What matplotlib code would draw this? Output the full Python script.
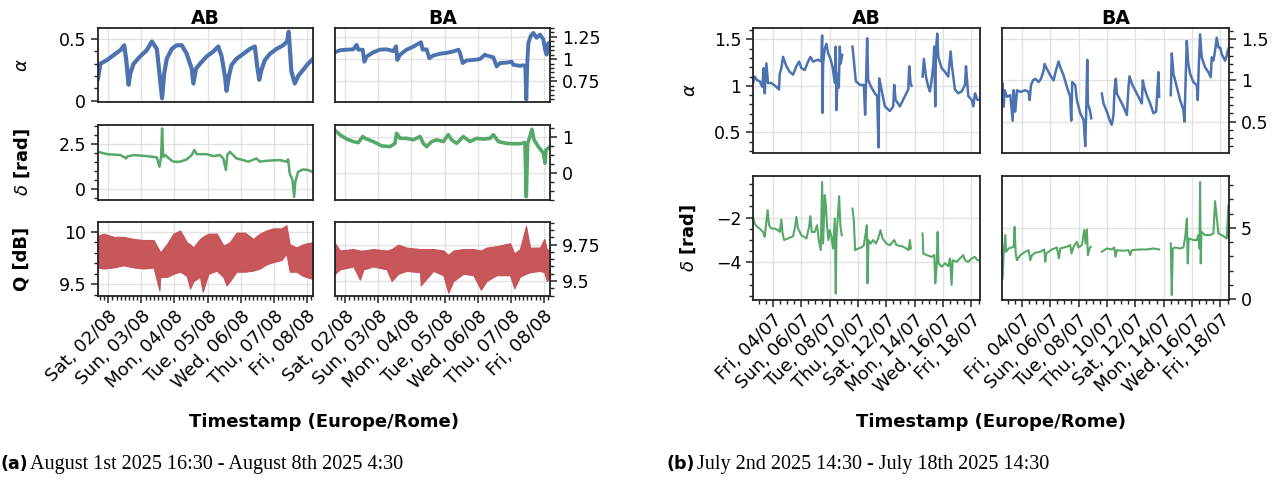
import numpy as np
import matplotlib
matplotlib.use("Agg")
import matplotlib.pyplot as plt
import matplotlib.dates as mdates
from matplotlib.ticker import MultipleLocator, FuncFormatter

# ---------------- data (hours since window start) ----------------
start_a = np.datetime64("2025-08-01T16:30")
end_a = np.datetime64("2025-08-08T04:30")
start_b = np.datetime64("2025-07-02T14:30")
end_b = np.datetime64("2025-07-18T14:30")

# (a) AB alpha
a_ab_alpha_t = [0, 1.7, 6.5, 11.3, 16.2, 19.0, 20.5, 22.2, 23.4, 25.8,
                30.6, 35.4, 39.1, 42.7, 44.6, 46.5, 48.0, 49.9, 53.5, 57.1,
                60.8, 64.4, 68.0, 69.2, 71.1, 74.0, 78.9, 83.7, 87.3, 89.7,
                92.1, 93.3, 95.0, 96.9, 100.5, 105.4, 110.2, 113.8, 115.5, 117.0,
                118.6, 121.1, 124.7, 129.5, 134.3, 137.2, 138.4, 139.1, 140.3, 142.8,
                145.2, 148.8, 152.4, 156]
a_ab_alpha_v = [0.18, 0.30, 0.33, 0.37, 0.41, 0.45, 0.33, 0.13, 0.22, 0.30,
                0.36, 0.41, 0.48, 0.42, 0.22, 0.02, 0.22, 0.34, 0.42, 0.45,
                0.45, 0.38, 0.26, 0.14, 0.26, 0.30, 0.36, 0.40, 0.44, 0.36,
                0.20, 0.08, 0.20, 0.29, 0.34, 0.38, 0.42, 0.44, 0.28, 0.17,
                0.25, 0.33, 0.38, 0.42, 0.45, 0.48, 0.56, 0.44, 0.24, 0.14,
                0.20, 0.25, 0.30, 0.34]

# (a) BA alpha
a_ba_alpha_t = [0, 3.6, 8.5, 13.3, 15.7, 16.9, 20.1, 21.3, 23.0, 27.8,
                32.6, 37.5, 42.3, 44.3, 45.2, 47.2, 52.0, 56.8, 62.4, 63.6,
                66.5, 68.4, 71.3, 76.2, 81.0, 85.9, 89.5, 90.7, 92.6, 95.5,
                100.4, 105.2, 108.8, 110.0, 112.5, 114.9, 117.3, 119.7, 124.5, 128.2,
                129.4, 134.2, 136.6, 138.1, 138.8, 139.5, 140.3, 142.0, 143.9, 146.3,
                148.7, 151.2, 152.4, 153.6, 154.8, 156.0]
a_ba_alpha_v = [1.076, 1.10, 1.106, 1.11, 1.16, 1.106, 1.106, 0.97, 1.03, 1.076,
                1.106, 1.11, 1.09, 1.144, 0.99, 1.05, 1.106, 1.14, 1.19, 1.106,
                1.11, 1.01, 1.04, 1.06, 1.07, 1.087, 1.106, 1.07, 0.955, 0.985,
                0.99, 1.0, 1.05, 1.04, 1.03, 1.02, 0.917, 0.955, 0.96, 0.97,
                0.936, 0.924, 0.93, 0.917, 0.545, 0.95, 1.18, 1.26, 1.295, 1.24,
                1.276, 1.22, 1.106, 1.05, 1.18, 1.125]

# (a) AB delta
a_ab_delta_t = [0, 6.5, 16.2, 20.5, 21.0, 25.8, 35.4, 42.7, 44.6, 45.8,
                46.5, 47.3, 48.7, 52.3, 54.7, 59.6, 64.4, 68.0, 69.9, 71.6,
                78.9, 83.7, 88.5, 90.9, 92.8, 93.8, 95.7, 100.5, 105.4, 109.0,
                115.0, 117.4, 122.3, 131.9, 136.7, 137.9, 139.1, 141.1, 142.3, 143.2,
                145.2, 148.8, 152.4, 156]
a_ab_delta_v = [2.07, 1.94, 1.89, 1.70, 1.80, 1.89, 1.83, 1.76, 1.24, 1.80,
                3.37, 1.80, 1.89, 1.65, 1.52, 1.52, 1.65, 1.89, 2.17, 1.94,
                1.94, 1.83, 1.89, 1.70, 1.06, 1.89, 2.07, 1.70, 1.61, 1.52,
                1.70, 1.52, 1.57, 1.61, 1.52, 1.65, 0.87, 0.50, -0.43, 0.41,
                0.96, 1.09, 1.06, 0.93]

# (a) BA delta
a_ba_delta_t = [0, 3.6, 8.5, 13.3, 16.9, 20.1, 21.8, 27.8, 33.9, 39.9,
                43.5, 44.7, 47.2, 52.0, 56.8, 61.7, 64.1, 66.5, 70.1, 73.8,
                78.6, 82.2, 84.6, 88.3, 93.1, 97.9, 102.8, 107.6, 112.5, 114.9,
                118.5, 124.5, 129.4, 134.2, 137.8, 138.8, 139.8, 141.4, 142.9, 144.4,
                147.5, 151.2, 152.4, 153.1, 154.8, 156]
a_ba_delta_v = [1.17, 1.05, 0.93, 0.86, 0.83, 1.0, 0.95, 0.86, 0.74, 0.72,
                0.81, 1.09, 0.95, 0.95, 0.91, 1.0, 0.81, 0.72, 0.86, 0.91,
                0.86, 1.05, 0.91, 0.81, 1.0, 0.86, 0.95, 0.93, 0.95, 1.05,
                0.86, 0.81, 0.80, 0.80, 0.83, -0.67, 0.81, 1.0, 1.2, 0.91,
                0.72, 0.54, 0.26, 0.63, 0.68, 0.72]

# (a) AB Q envelope
a_ab_q_t = [0, 4.1, 11.3, 18.6, 25.8, 33.0, 40.3, 44.6, 45.1, 49.9,
            54.7, 59.6, 64.4, 66.8, 69.2, 74.0, 76.0, 80.1, 86.1, 90.9,
            93.3, 95.7, 100.5, 106.6, 112.6, 117.4, 122.3, 127.1, 133.1, 136.7,
            139.1, 144.0, 148.8, 156]
a_ab_q_hi = [9.96, 9.98, 9.95, 9.95, 9.93, 9.92, 9.92, 9.82, 9.80, 9.88,
             9.98, 10.01, 9.90, 9.88, 9.85, 9.93, 9.95, 9.98, 9.98, 9.87,
             9.88, 9.90, 9.99, 9.99, 9.93, 9.98, 10.01, 10.03, 10.03, 10.06,
             9.88, 9.85, 9.88, 9.90]
a_ab_q_lo = [9.66, 9.65, 9.66, 9.68, 9.66, 9.65, 9.66, 9.44, 9.57, 9.57,
             9.60, 9.62, 9.58, 9.46, 9.53, 9.57, 9.43, 9.60, 9.63, 9.57,
             9.49, 9.53, 9.62, 9.62, 9.63, 9.65, 9.69, 9.71, 9.73, 9.79,
             9.62, 9.62, 9.58, 9.55]

# (a) BA Q envelope
a_ba_q_t = [0, 3.6, 13.3, 18.1, 20.6, 27.8, 37.5, 41.1, 45.9, 52.0,
            61.7, 62.2, 71.3, 78.6, 82.2, 85.9, 93.1, 100.4, 105.9, 110.0,
            117.3, 127.0, 130.1, 134.2, 138.6, 141.5, 148.7, 151.9, 153.6, 156]
a_ba_q_hi = [9.76, 9.71, 9.72, 9.71, 9.71, 9.72, 9.71, 9.72, 9.75, 9.73,
             9.72, 9.72, 9.72, 9.71, 9.68, 9.71, 9.72, 9.72, 9.71, 9.73,
             9.74, 9.76, 9.69, 9.72, 9.88, 9.73, 9.73, 9.79, 9.72, 9.71]
a_ba_q_lo = [9.55, 9.58, 9.60, 9.51, 9.58, 9.60, 9.58, 9.50, 9.55, 9.57,
             9.56, 9.47, 9.57, 9.54, 9.42, 9.50, 9.55, 9.54, 9.44, 9.50,
             9.54, 9.54, 9.45, 9.53, 9.55, 9.56, 9.57, 9.56, 9.50, 9.53]

nan = np.nan

# (b) AB alpha (nan = missing data)
b_ab_alpha_t = [0, 2.8, 6.8, 11.3, 15.8, 18.1, 19.8, 22.6, 25.4, 31.1,
                39.5, 44.0, 45.2, 48.0, 50.8, 56.5, 62.1, 67.8, 73.4, 77.9,
                81.9, 87.5, 93.2, 97.1, 101.6, 110.1, 115.8, 116.9, 117.5, 118.6,
                121.4, 124.2, 127.1, 131.0, 134.4, 138.4, 140.0, 141.2, 142.9, 145.1,
                146.8, 148.5, 150.8, 160,
                168.3, 170.5, 173.9, 180.7, 187.5, 189.7, 192.0, 193.1, 194.8, 200.5,
                206.1, 210.1, 212.3, 213.5, 217.4, 223.1, 231.5, 237.2, 238.9, 241.1,
                248.5, 257.0, 262.6, 264.3, 266.5, 268.2, 277,
                286.9, 289.1, 292.5, 296.5, 299.3, 302.1, 305.0, 306.6, 308.3, 309.5,
                311.7, 313.4, 319.1, 324.7, 330.3, 334.3, 336.6, 341.6, 347.3, 353.0,
                358.6, 360.3, 364.2, 369.9, 372.7, 375.5, 379.5, 384.0]
b_ab_alpha_v = [1.03, 1.10, 1.06, 1.05, 0.99, 1.19, 0.92, 1.24, 1.03, 1.03,
                0.99, 0.96, 1.13, 1.19, 1.31, 1.21, 1.15, 1.12, 1.21, 1.26,
                1.19, 1.17, 1.26, 1.31, 1.26, 1.28, 1.26, 1.54, 0.71, 1.24,
                1.40, 1.45, 1.35, 1.29, 1.21, 1.03, 1.42, 0.74, 1.13, 0.98,
                1.42, 1.24, 1.33, nan,
                1.42, 1.28, 1.05, 1.01, 1.01, 0.69, 1.22, 1.51, 1.06, 0.98,
                0.92, 0.89, 0.34, 1.08, 0.96, 0.78, 0.73, 0.78, 1.01, 0.85,
                0.78, 0.89, 0.96, 1.21, 1.03, 1.0, nan,
                1.10, 1.29, 1.10, 0.99, 0.94, 1.06, 1.22, 1.42, 0.78, 1.38,
                1.56, 1.31, 1.19, 1.15, 1.10, 1.37, 1.21, 0.96, 0.92, 0.94,
                1.01, 1.21, 0.89, 0.85, 0.78, 0.92, 0.85, 0.85]

# (b) BA alpha
b_ba_alpha_t = [1.1, 2.8, 4.5, 8.4, 14.1, 18.0, 19.7, 22.5, 25.3, 31.0,
                39.4, 45.0, 46.7, 49.0, 52.4, 56.3, 61.9, 65.9, 70.4, 72.1,
                76.0, 81.7, 87.3, 91.2, 95.7, 98.5, 104.2, 109.8, 115.4, 117.1,
                118.8, 123.9, 126.7, 132.4, 138.0, 140.8, 142.5, 144.2, 145.3, 149.2,
                150.9, 160,
                168.9, 171.7, 177.4, 183.0, 185.8, 188.6, 190.3, 192.6, 194.3, 199.9,
                205.5, 211.2, 214.0, 215.7, 219.6, 225.2, 230.9, 236.5, 238.2, 240.4,
                244.9, 250.6, 256.2, 260.7, 264.7, 265.8, 275,
                285.5, 287.2, 290.0, 295.7, 301.3, 306.9, 308.6, 310.3, 312.6, 314.8,
                318.2, 323.8, 329.5, 331.1, 332.8, 335.1, 337.9, 343.5, 349.1, 353.1,
                354.8, 357.6, 360.4, 363.2, 366.1, 368.9, 371.7, 377.3, 380.2, 381.8,
                384]
b_ba_alpha_v = [0.96, 0.68, 0.88, 0.80, 0.82, 0.51, 0.88, 0.62, 0.88, 0.86,
                0.88, 0.86, 0.76, 0.94, 1.0, 1.02, 0.98, 1.02, 1.12, 1.20,
                1.14, 1.06, 1.0, 1.12, 1.23, 1.16, 1.06, 0.92, 0.80, 0.51,
                0.98, 0.94, 0.76, 0.60, 0.52, 0.20, 0.64, 1.25, 0.72, 0.62,
                0.54, nan,
                0.84, 0.72, 0.62, 0.50, 0.46, 0.58, 0.88, 1.02, 0.84, 0.76,
                0.68, 0.58, 0.92, 1.05, 0.96, 0.88, 0.80, 0.72, 1.0, 0.92,
                0.82, 0.72, 0.60, 0.62, 1.10, 0.80, nan,
                0.82, 1.33, 1.08, 0.92, 0.76, 0.64, 0.50, 0.92, 1.48, 1.22,
                1.08, 0.98, 0.94, 0.76, 1.16, 1.56, 1.28, 1.16, 1.10, 1.04,
                1.28, 1.24, 1.36, 1.52, 1.40, 1.40, 1.32, 1.24, 1.30, 1.36,
                1.40]

# (b) AB delta
b_ab_delta_t = [0, 2.8, 6.8, 11.3, 16.9, 19.8, 22.6, 24.8, 27.1, 31.1,
                36.7, 42.4, 45.2, 48.0, 49.7, 52.5, 59.3, 67.8, 71.2, 73.4,
                76.2, 81.9, 90.4, 94.9, 97.1, 99.4, 104.5, 108.4, 111.2, 114.6,
                116.9, 118.6, 121.4, 123.1, 125.4, 127.6, 129.9, 132.7, 135.5, 138.4,
                140.0, 141.2, 144.6, 145.7, 147.9, 150.2, 160,
                168.3, 170.5, 172.8, 177.9, 183.5, 187.5, 190.9, 192.6, 193.7, 195.4,
                198.8, 203.3, 207.8, 211.8, 215.7, 219.1, 225.9, 231.5, 238.9, 242.8,
                251.3, 259.8, 263.2, 265.4, 267.1, 277,
                286.9, 288.0, 293.6, 302.1, 306.6, 308.3, 310.6, 312.3, 314.0, 319.1,
                324.7, 330.3, 333.2, 336.0, 337.7, 344.5, 350.1, 355.8, 358.6, 364.2,
                369.9, 375.5, 379.5, 384]
b_ab_delta_v = [-1.97, -2.27, -2.41, -2.49, -2.64, -2.86, -2.19, -1.67, -2.34, -2.49,
                -2.49, -2.56, -2.64, -2.09, -2.64, -3.0, -2.93, -2.83, -2.41, -1.97,
                -2.49, -2.79, -2.93, -2.41, -1.94, -2.64, -2.64, -2.34, -3.0, -3.45,
                -0.41, -3.16, -1.0, -1.38, -2.41, -3.0, -2.56, -2.86, -3.38, -2.04,
                -5.38, -2.86, -1.53, -1.05, -2.41, -2.79, nan,
                -1.6, -2.12, -3.45, -3.38, -3.33, -3.23, -2.64, -2.34, -4.93, -3.0,
                -3.16, -3.0, -3.16, -2.93, -2.56, -2.93, -3.16, -3.23, -3.0, -3.23,
                -3.27, -3.38, -3.45, -3.0, -3.38, nan,
                -2.71, -3.6, -3.67, -3.75, -3.67, -4.93, -4.19, -2.64, -4.04, -4.19,
                -4.04, -4.16, -3.82, -5.0, -3.90, -3.97, -3.82, -3.67, -3.90, -3.97,
                -3.82, -3.75, -3.90, -3.90]

# (b) BA delta
b_ba_delta_t = [1.1, 2.8, 5.6, 6.8, 11.3, 19.7, 21.4, 23.1, 25.3, 31.0,
                39.4, 45.0, 47.9, 50.7, 56.3, 64.8, 71.5, 73.2, 74.9, 84.5,
                92.9, 96.3, 98.5, 109.8, 115.4, 117.7, 121.1, 126.7, 129.5, 135.1,
                139.1, 141.3, 143.6, 145.3, 148.1, 150.3, 160,
                168.9, 177.4, 185.8, 189.8, 192.0, 194.3, 205.5, 214.0, 216.8, 219.6,
                233.7, 244.9, 256.2, 265.8, 275,
                285.5, 287.2, 288.9, 292.8, 301.3, 306.9, 310.0, 311.7, 312.8, 314.2,
                315.9, 323.8, 329.5, 332.2, 334.0, 335.1, 336.2, 337.4, 343.5, 351.9,
                357.6, 360.4, 363.2, 366.1, 374.5, 380.2, 383.0, 384]
b_ba_delta_v = [1.45, 3.2, 4.49, 3.32, 3.55, 3.67, 5.07, 3.2, 2.73, 3.08,
                3.32, 3.43, 2.73, 3.08, 3.25, 3.32, 3.48, 2.62, 3.2, 3.48,
                3.62, 2.85, 3.55, 3.67, 3.79, 3.2, 3.67, 4.02, 3.62, 3.79,
                4.84, 3.9, 4.88, 3.08, 3.55, 3.67, nan,
                3.32, 3.55, 3.48, 3.62, 2.97, 3.43, 3.39, 3.43, 3.08, 3.43,
                3.48, 3.48, 3.55, 3.48, nan,
                3.9, 0.28, 3.55, 3.62, 3.55, 3.62, 4.37, 5.19, 5.65, 2.5,
                4.25, 4.14, 4.14, 4.49, 3.55, 8.22, 2.5, 4.72, 4.49, 4.49,
                4.6, 6.87, 5.77, 4.6, 4.42, 4.25, 6.59, 4.37]

col_titles = ["AB", "BA"]
xlabel = "Timestamp (Europe/Rome)"
caption_a = "August 1st 2025 16:30 - August 8th 2025 4:30"
caption_b = "July 2nd 2025 14:30 - July 18th 2025 14:30"

BLUE = "#4c72b0"
GREEN = "#55a868"
RED = "#c44e52"

plt.rcParams["font.family"] = ["DejaVu Sans"]
plt.rcParams["mathtext.fontset"] = "dejavusans"

W, H = 1284, 479
fig = plt.figure(figsize=(W / 100, H / 100), dpi=100)


def to_time(start, hours):
    mins = np.round(np.asarray(hours, dtype=float) * 60).astype(int)
    return start + mins.astype("timedelta64[m]")


def add_ax(x0, y0, x1, y1):
    # pixel box -> figure fraction
    return fig.add_axes([x0 / W, 1 - y1 / H, (x1 - x0) / W, (y1 - y0) / H])


def fmt(v, pos):
    s = "%g" % round(v, 4)
    return s.replace("-", "\u2212")


def style(ax, start, end, side, major, minor, ylim, show_x, day_ticks, minor_hours):
    ax.set_xlim(start, end)
    ax.set_ylim(*ylim)
    ax.yaxis.set_major_locator(MultipleLocator(major))
    ax.yaxis.set_minor_locator(MultipleLocator(minor))
    ax.yaxis.set_major_formatter(FuncFormatter(fmt))
    ax.xaxis.set_major_locator(mdates.DayLocator(bymonthday=day_ticks))
    ax.xaxis.set_minor_locator(mdates.HourLocator(byhour=minor_hours))
    ax.xaxis.set_major_formatter(mdates.DateFormatter("%a, %d/%m"))
    ax.grid(True, which="major", color="#e2e2e2", lw=1.0)
    ax.set_axisbelow(True)
    for s in ax.spines.values():
        s.set_linewidth(1.3)
        s.set_color("#222222")
    ax.tick_params(which="major", length=5, width=1.1, labelsize=12.5, color="#222222")
    ax.tick_params(which="minor", length=3, width=1.0, color="#222222")
    ax.tick_params(axis="x", labelsize=13, pad=3)
    if side == "right":
        ax.yaxis.tick_right()
        ax.tick_params(axis="y", which="both", left=False, right=True)
    if show_x:
        for lab in ax.get_xticklabels():
            lab.set_rotation(45)
            lab.set_ha("right")
            lab.set_rotation_mode("anchor")
    else:
        ax.tick_params(axis="x", which="both", bottom=False, labelbottom=False)


days_a = range(1, 32)
days_b = range(4, 19, 2)
hrs_a = range(0, 24, 3)
hrs_b = [0, 12]

# ---------------- panel (a) ----------------
ax = add_ax(98, 28, 313, 102)
ax.plot(to_time(start_a, a_ab_alpha_t), a_ab_alpha_v, color=BLUE, lw=3.0)
style(ax, start_a, end_a, "left", 0.5, 0.1, (-0.01, 0.59), False, days_a, hrs_a)
ax.set_title(col_titles[0], fontsize=13.5, fontweight="bold", pad=3)

ax = add_ax(335, 28, 550, 102)
ax.plot(to_time(start_a, a_ba_alpha_t), a_ba_alpha_v, color=BLUE, lw=2.8)
style(ax, start_a, end_a, "right", 0.25, 0.05, (0.517, 1.35), False, days_a, hrs_a)
ax.set_title(col_titles[1], fontsize=13.5, fontweight="bold", pad=3)

ax = add_ax(98, 125, 313, 200)
ax.plot(to_time(start_a, a_ab_delta_t), a_ab_delta_v, color=GREEN, lw=1.8)
style(ax, start_a, end_a, "left", 2.5, 0.5, (-0.61, 3.56), False, days_a, hrs_a)

ax = add_ax(335, 125, 550, 200)
ax.plot(to_time(start_a, a_ba_delta_t), a_ba_delta_v, color=GREEN, lw=2.6)
style(ax, start_a, end_a, "right", 1, 0.25, (-0.76, 1.32), False, days_a, hrs_a)

ax = add_ax(98, 222, 313, 296)
ax.fill_between(to_time(start_a, a_ab_q_t), a_ab_q_lo, a_ab_q_hi,
                color=RED, lw=0.8, alpha=0.95)
style(ax, start_a, end_a, "left", 0.5, 0.1, (9.39, 10.09), True, days_a, hrs_a)

ax = add_ax(335, 222, 550, 296)
ax.fill_between(to_time(start_a, a_ba_q_t), a_ba_q_lo, a_ba_q_hi,
                color=RED, lw=0.8, alpha=0.95)
style(ax, start_a, end_a, "right", 0.25, 0.05, (9.397, 9.906), True, days_a, hrs_a)

# ---------------- panel (b) ----------------
ax = add_ax(753, 28, 980, 153)
ax.plot(to_time(start_b, b_ab_alpha_t), b_ab_alpha_v, color=BLUE, lw=1.8)
style(ax, start_b, end_b, "left", 0.5, 0.1, (0.28, 1.62), False, days_b, hrs_b)
ax.set_title(col_titles[0], fontsize=13.5, fontweight="bold", pad=3)

ax = add_ax(1002, 28, 1229, 153)
ax.plot(to_time(start_b, b_ba_alpha_t), b_ba_alpha_v, color=BLUE, lw=1.8)
style(ax, start_b, end_b, "right", 0.5, 0.1, (0.117, 1.637), False, days_b, hrs_b)
ax.set_title(col_titles[1], fontsize=13.5, fontweight="bold", pad=3)

ax = add_ax(753, 176, 980, 300)
ax.plot(to_time(start_b, b_ab_delta_t), b_ab_delta_v, color=GREEN, lw=1.5)
style(ax, start_b, end_b, "left", 2, 0.5, (-5.67, -0.15), True, days_b, hrs_b)

ax = add_ax(1002, 176, 1229, 300)
ax.plot(to_time(start_b, b_ba_delta_t), b_ba_delta_v, color=GREEN, lw=1.5)
style(ax, start_b, end_b, "right", 5, 1, (-0.07, 8.64), True, days_b, hrs_b)

# ---------------- labels ----------------
def ylab(x, y, s, bold):
    fig.text(x / W, 1 - y / H, s, rotation=90, ha="center", va="center",
             fontsize=13, fontweight="bold" if bold else "normal")


ylab(22, 65, r"$\alpha$", False)
ylab(22, 162, r"$\delta$ [rad]", True)
ylab(22, 259, "Q [dB]", True)
ylab(690, 90, r"$\alpha$", False)
ylab(688, 238, r"$\delta$ [rad]", True)

fig.text(324 / W, 1 - 422 / H, xlabel, ha="center", va="center",
         fontsize=13, fontweight="bold")
fig.text(991 / W, 1 - 422 / H, xlabel, ha="center", va="center",
         fontsize=13, fontweight="bold")

fig.text(1 / W, 1 - 464 / H, "(a)", fontsize=12.5, fontweight="bold", va="center")
fig.text(30 / W, 1 - 464 / H, caption_a, fontsize=14.5,
         family="Liberation Serif", va="center")
fig.text(666 / W, 1 - 464 / H, "(b)", fontsize=12.5, fontweight="bold", va="center")
fig.text(697 / W, 1 - 464 / H, caption_b, fontsize=14.5,
         family="Liberation Serif", va="center")

fig.savefig("out.png", dpi=100)
